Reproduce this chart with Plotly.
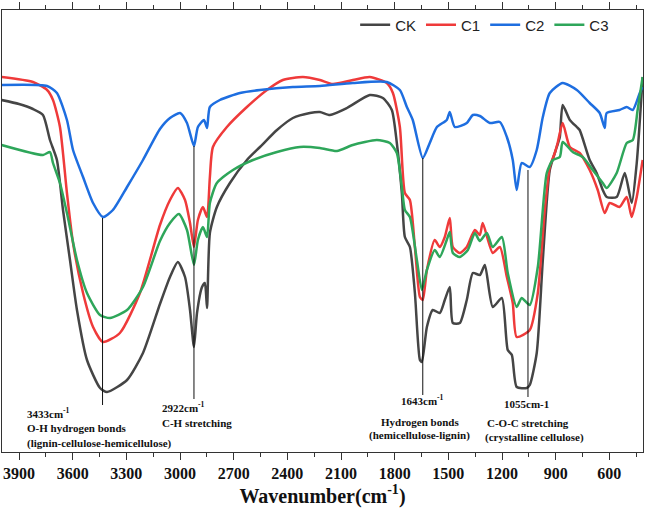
import plotly.graph_objects as go

# Wavenumber (cm-1) and transmittance (a.u.)
ck_w = [3998, 3900, 3822, 3766, 3727, 3688, 3654, 3615, 3576, 3520, 3447, 3408, 3296, 3207, 3112,
        3056, 3012, 2972, 2944, 2922, 2905, 2877, 2861, 2849, 2833, 2794, 2721, 2626, 2553, 2458,
        2369, 2274, 2218, 2162, 2067, 1939, 1866, 1816, 1788, 1760, 1743, 1715, 1687, 1659, 1648,
        1620, 1587, 1548, 1520, 1492, 1475, 1436, 1397, 1363, 1324, 1296, 1252, 1201, 1168, 1145,
        1118, 1062, 1045, 1006, 972, 933, 894, 877, 861, 821, 782, 766, 710, 671, 637, 615, 559,
        514, 475, 447, 414]
ck_t = [352, 348, 343, 337, 312, 292, 242, 192, 142, 92, 64, 60, 72, 99, 148,
        175, 190, 175, 142, 105, 139, 165, 169, 144, 219, 245, 269, 292, 305, 322,
        334, 339, 340, 337, 344, 357, 354, 342, 309, 259, 215, 205, 159, 92, 90,
        125, 142, 139, 152, 165, 129, 129, 152, 179, 177, 187, 145, 154, 102, 97,
        65, 64, 67, 99, 192, 282, 305, 315, 347, 332, 325, 322, 292, 279, 262, 255, 255,
        279, 249, 289, 375]

c1_w = [3998, 3822, 3743, 3710, 3671, 3632, 3598, 3542, 3486, 3431, 3336, 3224, 3112, 3056, 3012,
        2972, 2944, 2922, 2900, 2872, 2849, 2833, 2816, 2738, 2626, 2514, 2425, 2313, 2218, 2146,
        2034, 1939, 1844, 1810, 1771, 1743, 1715, 1687, 1659, 1643, 1620, 1576, 1548, 1520, 1492,
        1475, 1436, 1397, 1352, 1324, 1308, 1252, 1212, 1173, 1140, 1118, 1045, 1000, 961, 933,
        905, 889, 861, 821, 766, 710, 665, 626, 598, 543, 503, 475, 447, 414]
c1_t = [375, 370, 362, 352, 325, 259, 209, 159, 125, 110, 119, 159, 227, 252, 264,
        252, 229, 205, 232, 245, 235, 275, 305, 325, 345, 362, 372, 375, 372, 368,
        372, 375, 369, 359, 325, 259, 252, 205, 155, 152, 182, 212, 205, 215, 234,
        205, 199, 205, 222, 217, 229, 199, 205, 175, 149, 115, 122, 159, 242, 285,
        299, 309, 329, 305, 299, 282, 262, 239, 249, 245, 255, 235, 255, 292]

c2_w = [3998, 3743, 3688, 3632, 3598, 3542, 3486, 3431, 3375, 3296, 3207, 3112, 3056, 3000, 2961,
        2922, 2900, 2866, 2849, 2833, 2777, 2665, 2553, 2369, 2218, 2034, 1844, 1771, 1732, 1699,
        1643, 1604, 1564, 1509, 1492, 1464, 1397, 1363, 1324, 1268, 1212, 1173, 1140, 1118, 1090,
        1045, 1006, 972, 933, 861, 782, 710, 654, 626, 615, 543, 503, 469, 430, 414]
c2_t = [367, 366, 359, 332, 302, 275, 249, 235, 242, 265, 292, 323, 334, 339, 329,
        306, 325, 332, 324, 345, 352, 359, 362, 365, 366, 369, 370, 362, 345, 332,
        294, 309, 325, 332, 340, 325, 329, 337, 336, 329, 330, 315, 292, 262, 289,
        285, 302, 335, 359, 369, 362, 349, 339, 324, 339, 342, 345, 342, 359, 365]

c3_w = [3998, 3766, 3727, 3710, 3671, 3632, 3576, 3520, 3447, 3391, 3296, 3207, 3112, 3056, 3006,
        2961, 2922, 2900, 2872, 2849, 2833, 2794, 2704, 2592, 2458, 2330, 2218, 2123, 2034, 1900,
        1827, 1788, 1760, 1743, 1715, 1676, 1648, 1620, 1576, 1548, 1509, 1492, 1475, 1436, 1391,
        1352, 1324, 1285, 1252, 1201, 1168, 1118, 1090, 1045, 1000, 950, 916, 877, 861, 805,
        749, 693, 637, 615, 559, 503, 469, 442, 414]
c3_t = [307, 297, 300, 289, 269, 239, 192, 159, 137, 134, 142, 165, 211, 229, 238,
        222, 187, 212, 225, 215, 249, 269, 282, 292, 300, 305, 304, 301, 307, 312,
        309, 299, 265, 242, 235, 192, 162, 182, 202, 195, 212, 220, 199, 195, 202,
        219, 211, 219, 205, 215, 179, 145, 154, 147, 185, 279, 292, 295, 310, 300,
        295, 282, 269, 264, 279, 309, 312, 342, 375]

series_names = ["CK", "C1", "C2", "C3"]
series_colors = ["#454545", "#ef3a3a", "#1e6ee0", "#2ea65a"]

# Band annotations: wavenumber, line top, line bottom
band_w = [3433, 2922, 1643, 1055]
band_top = [234, 306, 294, 282]
band_bot = [47, 53, 57, 55]

fig = go.Figure()
for name, color, w, t in zip(series_names, series_colors,
                             [ck_w, c1_w, c2_w, c3_w], [ck_t, c1_t, c2_t, c3_t]):
    fig.add_trace(go.Scatter(x=w, y=t, mode="lines", name=name,
                             line=dict(color=color, width=2.5, shape="spline", smoothing=0.6)))

for bw, bt, bb in zip(band_w, band_top, band_bot):
    fig.add_shape(type="line", x0=bw, x1=bw, y0=bb, y1=bt, xref="x", yref="y",
                  line=dict(color="#111111", width=1))

serif = "Liberation Serif"
afont = dict(family=serif, size=11, color="#111111", weight="bold")
notes = [
    (3866, 39, "3433cm<sup>-1</sup>", "left"),
    (3866, 24, "O-H hydrogen bonds", "left"),
    (3866, 9, "(lignin-cellulose-hemicellulose)", "left"),
    (3112, 45, "2922cm<sup>-1</sup>", "left"),
    (3112, 29, "C-H stretching", "left"),
    (1643, 52, "1643cm<sup>-1</sup>", "center"),
    (1659, 30, "Hydrogen bonds", "center"),
    (1659, 17, "(hemicellulose-lignin)", "center"),
    (1062, 48, "1055cm-1", "center"),
    (1056, 29, "C-O-C stretching", "center"),
    (1017, 15, "(crystalline cellulose)", "center"),
]
for nx, ny, txt, anc in notes:
    fig.add_annotation(x=nx, y=ny, xref="x", yref="y", text=txt, showarrow=False,
                       xanchor=anc, yanchor="middle", font=afont)

fig.update_layout(
    width=646, height=512,
    margin=dict(l=2, r=3, t=10, b=60),
    paper_bgcolor="white", plot_bgcolor="white",
    showlegend=True,
    legend=dict(orientation="h", x=0.955, xanchor="right", y=0.966, yanchor="middle",
                font=dict(family="Liberation Sans", size=15, color="#222222"),
                bgcolor="rgba(0,0,0,0)", itemwidth=30, tracegroupgap=0),
    xaxis=dict(range=[3995, 412], showgrid=False, zeroline=False,
               showline=True, linecolor="#333333", linewidth=1, mirror="ticks",
               ticks="outside", ticklen=7, tickcolor="#333333", tickwidth=1,
               tick0=0, dtick=300,
               minor=dict(ticks="outside", ticklen=4, dtick=150, tick0=0, tickcolor="#333333"),
               tickfont=dict(family=serif, size=16, color="#111111", weight="bold"),
               title=dict(text="Wavenumber(cm<sup>-1</sup>)", standoff=6,
                          font=dict(family=serif, size=20, color="#111111", weight="bold"))),
    yaxis=dict(range=[0, 442], showgrid=False, zeroline=False, showticklabels=False,
               showline=True, linecolor="#333333", linewidth=1, mirror=True, ticks=""),
)

fig.write_html("out.html")
